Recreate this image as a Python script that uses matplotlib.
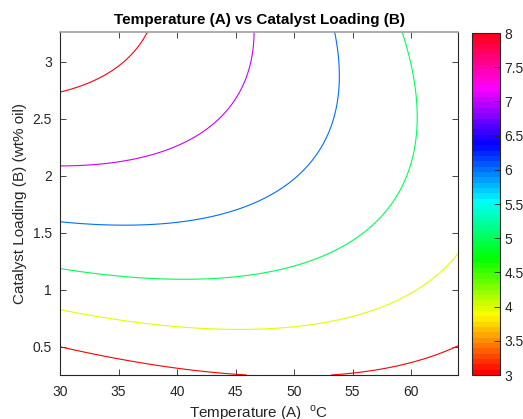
import numpy as np
import matplotlib
matplotlib.use("Agg")
import matplotlib.pyplot as plt
from matplotlib.colors import ListedColormap

plt.rcParams['font.family'] = ['Liberation Sans', 'DejaVu Sans']

# contour levels of the response and the traced points (A in degC, B in wt% oil)
levels = [3, 4, 5, 6, 7, 8]

a_3 = [30, 34.8, 40.5, 44.8, 53.6, 56.1, 59.8, 63.8]
b_3 = [0.491, 0.398, 0.31, 0.252, 0.252, 0.296, 0.368, 0.491]
a_4 = [30, 36.2, 40.5, 45.6, 50.4, 54.7, 57.5, 59.8, 61.8, 63.8]
b_4 = [0.816, 0.719, 0.667, 0.647, 0.675, 0.749, 0.822, 0.939, 1.085, 1.32]
a_5 = [30, 37.7, 41.9, 46.2, 49.9, 52.7, 55.6, 57.3, 58.7, 59.4, 60.0, 60.3, 60.5, 60.1, 59.2]
b_5 = [1.188, 1.114, 1.091, 1.129, 1.20, 1.304, 1.465, 1.64, 1.816, 1.933, 2.079, 2.313, 2.576, 2.956, 3.258]
a_6 = [30, 35.7, 39.1, 41.9, 44.8, 47.6, 49.9, 51.4, 52.6, 53.3, 53.9, 53.4]
b_6 = [1.597, 1.565, 1.582, 1.626, 1.70, 1.816, 1.962, 2.138, 2.313, 2.518, 2.81, 3.258]
a_7 = [30, 33.4, 36.2, 38.5, 41.1, 44.5, 45.9, 46.2, 46.5]
b_7 = [2.088, 2.103, 2.138, 2.196, 2.31, 2.576, 2.75, 2.956, 3.258]
a_8 = [30, 31.7, 33.4, 34.8, 36.2, 37.4]
b_8 = [2.746, 2.775, 2.84, 2.942, 3.10, 3.249]

temp_ticks = [30, 35, 40, 45, 50, 55, 60]
load_ticks = [0.5, 1, 1.5, 2, 2.5, 3]
cbar_ticks = [3, 3.5, 4, 4.5, 5, 5.5, 6, 6.5, 7, 7.5, 8]


def terms(a, b):
    x1 = (np.asarray(a) - 47) / 17
    x2 = (np.asarray(b) - 1.75) / 1.5
    return np.stack([np.ones_like(x1), x1, x2, x1 * x2, x1 ** 2, x2 ** 2], axis=-1)


# quadratic response surface fitted through the contour traces
pts_a, pts_b, pts_y = [], [], []
for lev, aa, bb in zip(levels, [a_3, a_4, a_5, a_6, a_7, a_8],
                       [b_3, b_4, b_5, b_6, b_7, b_8]):
    pts_a += aa
    pts_b += bb
    pts_y += [lev] * len(aa)
coef, *_ = np.linalg.lstsq(terms(pts_a, pts_b), np.array(pts_y, float), rcond=None)

A, B = np.meshgrid(np.linspace(30, 64, 200), np.linspace(0.25, 3.26, 200))
Z = terms(A, B) @ coef

cmap = ListedColormap(plt.cm.hsv(np.linspace(0, 1, 64)))

fig = plt.figure(figsize=(5.23, 4.19), dpi=100)
ax = fig.add_axes([60 / 523, 44 / 419, 398 / 523, 343 / 419])
cs = ax.contour(A, B, Z, levels=levels, cmap=cmap, vmin=3, vmax=8, linewidths=0.8)

ax.set_xlim(30, 64)
ax.set_ylim(0.25, 3.26)
ax.set_xticks(temp_ticks)
ax.set_yticks(load_ticks)
ax.set_yticklabels(['0.5', '1', '1.5', '2', '2.5', '3'])
ax.tick_params(direction='in', top=True, right=True, length=4, width=0.6,
               labelsize=10, colors='#262626')
ax.tick_params(axis='x', pad=7)
ax.tick_params(axis='y', pad=6)
for side in ['left', 'bottom', 'right']:
    ax.spines[side].set_color('#262626')
    ax.spines[side].set_linewidth(0.8)
ax.spines['top'].set_color('#a0a0a0')
ax.spines['top'].set_linewidth(1.2)

ax.set_title('Temperature (A) vs Catalyst Loading (B)', fontsize=11, fontweight='bold', pad=6)
ax.set_xlabel(r'Temperature (A)  $^{\mathregular{o}}$C', fontsize=11, color='#262626', labelpad=3)
ax.set_ylabel('Catalyst Loading (B) (wt% oil)', fontsize=11, color='#262626', labelpad=4)

cax = fig.add_axes([472 / 523, 44 / 419, 28 / 523, 342 / 419])
sm = plt.cm.ScalarMappable(cmap=cmap, norm=plt.Normalize(3, 8))
cb = fig.colorbar(sm, cax=cax, ticks=cbar_ticks)
cb.ax.set_yticklabels(['3', '3.5', '4', '4.5', '5', '5.5', '6', '6.5', '7', '7.5', '8'])
cb.ax.tick_params(direction='in', length=4, width=0.6, labelsize=10, colors='#262626', pad=3)
cb.outline.set_linewidth(0.8)
cb.outline.set_edgecolor('#262626')

fig.savefig('out.png', dpi=100)
